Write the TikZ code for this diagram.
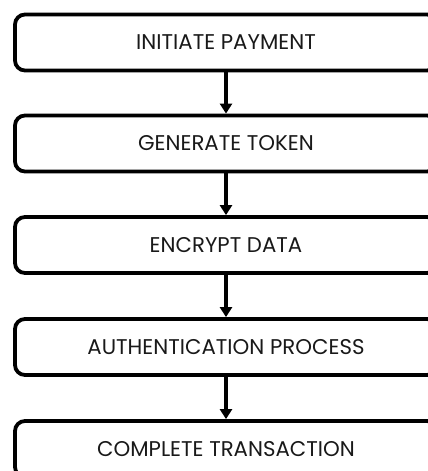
\documentclass[tikz,border=0pt]{standalone}
\usepackage{fontspec}
\setmainfont{Poppins}
\usetikzlibrary{arrows.meta}
\begin{document}
\begin{tikzpicture}[x=1pt,y=-1pt,
  stepbox/.style={draw=black,line width=3.8pt,rounded corners=10pt,minimum width=422pt,minimum height=56pt,inner sep=0pt,font=\fontsize{21.3}{24}\selectfont,text=black!90},
  flow/.style={line width=3.6pt,-{Triangle[length=10pt,width=12pt]}}]
\useasboundingbox (0,0) rectangle (428,471);
\clip (0,0) rectangle (428,471);
\fill[white] (0,0) rectangle (428,471);
\node[stepbox] (a) at (226,42.5) {INITIATE PAYMENT};
\node[stepbox] (b) at (226,143.5) {GENERATE TOKEN};
\node[stepbox] (c) at (226,245) {ENCRYPT DATA};
\node[stepbox] (d) at (226,347) {AUTHENTICATION PROCESS};
\node[stepbox] (e) at (226,449) {COMPLETE TRANSACTION};
\draw[flow] (a.south) -- (b.north);
\draw[flow] (b.south) -- (c.north);
\draw[flow] (c.south) -- (d.north);
\draw[flow] (d.south) -- (e.north);
\end{tikzpicture}
\end{document}
